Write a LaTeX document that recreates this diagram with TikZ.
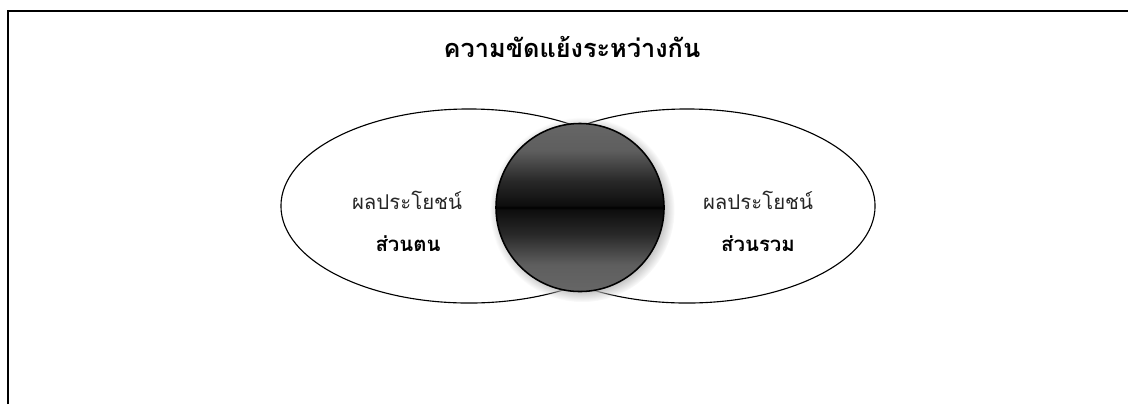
\documentclass[tikz,border=0pt]{standalone}
\usepackage{fontspec}
\newfontfamily\thaifont[Script=Thai]{Loma}
\usepackage{tikz}
\usetikzlibrary{shapes.geometric,shadows}

% dark ball, light at top and bottom, black in the middle
\pgfdeclareverticalshading{ballshade}{100bp}{color(0bp)=(black!60); color(25bp)=(black!60);
  color(33bp)=(black!63); color(42bp)=(black!84); color(49.5bp)=(black!95); color(50bp)=(black);
  color(50.5bp)=(black!95); color(58bp)=(black!84); color(67bp)=(black!63); color(75bp)=(black!60);
  color(100bp)=(black!60)}
\tikzset{
  txt/.style={text=black!85, font=\thaifont\fontsize{14.5}{17}\selectfont},
  txtb/.style={text=black, font=\thaifont\fontsize{14.5}{17}\selectfont\bfseries},
  bigring/.style={draw, ellipse, line width=0.8pt, minimum width=9.4cm, minimum height=4.85cm}
}

\begin{document}
\begin{tikzpicture}[x=0.025cm,y=-0.025cm]
\useasboundingbox (0,0) rectangle (1128,404);
% frame
\draw[line width=1.2pt] (8,404) -- (8,11) -- (1128,11);
\node[text=black, font=\thaifont\fontsize{18}{21}\selectfont\bfseries] (title) at (572,47) {ความขัดแย้งระหว่างกัน};
% two sides
\node[bigring] (self) at (469,206) {};
\node[bigring] (common) at (687,206) {};
% middle
\node[circle, draw, line width=1.1pt, minimum size=4.2cm, shading=ballshade,
  circular drop shadow={shadow xshift=0.05cm, shadow yshift=-0.05cm, fill=gray!55}] (conflict) at (580,207.5) {};
\node[txt] (selfa) at (407,200) {ผลประโยชน์};
\node[txtb] (selfb) at (408,244) {ส่วนตน};
\node[txt] (commona) at (758,200) {ผลประโยชน์};
\node[txtb] (commonb) at (758,244) {ส่วนรวม};
\end{tikzpicture}
\end{document}
